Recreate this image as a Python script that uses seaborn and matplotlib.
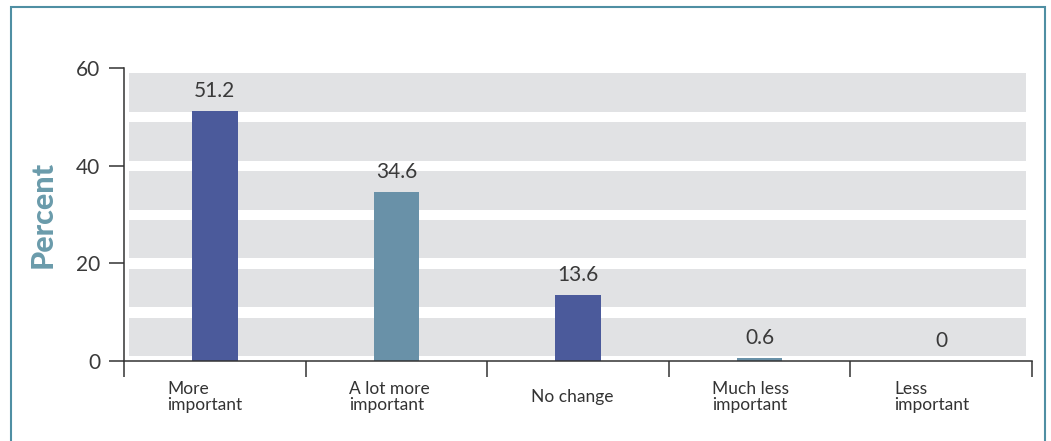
import numpy as np
import matplotlib
matplotlib.use("Agg")
import matplotlib.pyplot as plt
from matplotlib.patches import Rectangle
import seaborn as sns

# data
categories = ["More\nimportant", "A lot more\nimportant", "No change",
              "Much less\nimportant", "Less\nimportant"]
percent = [51.2, 34.6, 13.6, 0.6, 0.0]
bar_colors = ["#4b5a9b", "#6991a8", "#4b5a9b", "#6991a8", "#4b5a9b"]

sns.set_style("white")
plt.rcParams["font.family"] = ["Lato", "DejaVu Sans"]

W, H = 1051, 441
fig = plt.figure(figsize=(W / 100, H / 100), dpi=100)
ax = fig.add_axes([124 / W, 80 / H, 908 / W, 293 / H])

# grey horizontal bands behind the bars
for k in range(0, 60, 10):
    ax.axhspan(k + 1.0, k + 8.9, xmin=5 / 908, xmax=902 / 908,
               color="#e1e2e4", lw=0, zorder=0)

sns.barplot(x=categories, y=percent, hue=categories, palette=bar_colors,
            width=0.25, legend=False, ax=ax, zorder=2, saturation=1,
            linewidth=0)

for cont in ax.containers:
    ax.bar_label(cont, fmt="{:g}", padding=7, fontsize=15,
                 color="#3a3a3a")

ax.set_ylim(0, 60)
ax.set_xlim(-0.5, len(categories) - 0.5)
ax.set_yticks([0, 20, 40, 60])
ax.set_yticklabels(["0", "20", "40", "60"], fontsize=15, color="#3a3a3a")
ax.set_xticks(np.arange(-0.5, len(categories), 1.0))
ax.set_xticklabels([])
ax.tick_params(axis="y", direction="out", length=11, width=1.1,
               color="#333333", pad=6, left=True)
ax.tick_params(axis="x", direction="out", length=11.5, width=1.1,
               color="#333333", bottom=True)

for side in ["top", "right"]:
    ax.spines[side].set_visible(False)
for side in ["left", "bottom"]:
    ax.spines[side].set_color("#333333")
    ax.spines[side].set_linewidth(1.1)

# category labels, left-aligned inside each slot
for i, lab in enumerate(categories):
    ax.text(i - 0.26, -7.3, lab, ha="left", va="center", fontsize=12.5,
            color="#333333", linespacing=1.0, clip_on=False)

ax.set_ylabel("Percent", fontsize=22, fontweight="black", color="#6a9bab")
ax.yaxis.set_label_coords(-(124 - 43) / 908, 0.5)
ax.yaxis.label.set_va("center")

# outer teal frame (open at the bottom of the crop)
fig.patches.append(Rectangle((11 / W, -0.1), (1045 - 11) / W,
                             (441 - 7) / H + 0.1, transform=fig.transFigure,
                             fill=False, edgecolor="#4f8fa3", lw=1.5))

fig.savefig("out.png", dpi=100)
